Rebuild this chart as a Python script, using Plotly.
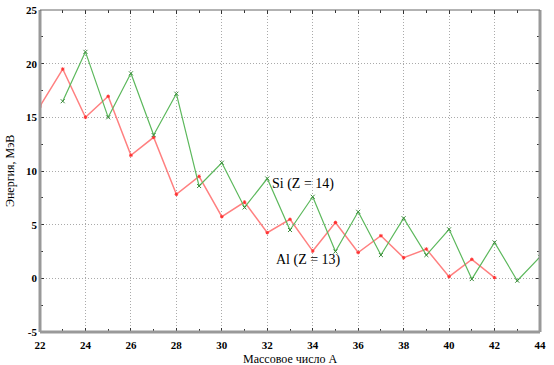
import plotly.graph_objects as go

al_x = list(range(22, 43))
al_y = [16.05, 19.5, 15.0, 16.96, 11.46, 13.14, 7.83, 9.5, 5.74, 7.1, 4.25,
        5.5, 2.54, 5.2, 2.4, 3.97, 1.92, 2.73, 0.15, 1.77, 0.06]
si_x = list(range(23, 45))
si_y = [16.5, 21.1, 15.0, 19.1, 13.35, 17.2, 8.6, 10.77, 6.6, 9.3, 4.5,
        7.6, 2.5, 6.2, 2.17, 5.6, 2.17, 4.57, -0.07, 3.35, -0.22, 2.0]
x_ticks = list(range(22, 45, 2))
y_ticks = list(range(-5, 26, 5))

fig = go.Figure()
fig.add_trace(go.Scatter(x=al_x, y=al_y, mode="lines+markers",
                         line=dict(color="#ff8080", width=1.5),
                         marker=dict(symbol="asterisk-open", size=3, color="#ff3030",
                                     line=dict(width=1, color="#ff3030")),
                         showlegend=False))
fig.add_trace(go.Scatter(x=si_x, y=si_y, mode="lines+markers",
                         line=dict(color="#5cb85c", width=1.2),
                         marker=dict(symbol="x-thin-open", size=4, color="#3a8a3a",
                                     line=dict(width=1, color="#3a8a3a")),
                         showlegend=False))

fig.add_annotation(x=32.1, y=8.8, text="Si (Z = 14)", showarrow=False, xanchor="left",
                   font=dict(family="Liberation Serif", size=14, color="black"))
fig.add_annotation(x=32.3, y=1.7, text="Al (Z = 13)", showarrow=False, xanchor="left",
                   font=dict(family="Liberation Serif", size=14, color="black"))
fig.add_annotation(xref="paper", yref="paper", x=0.5, y=-0.055, yanchor="top",
                   text="Массовое число A", showarrow=False,
                   font=dict(family="Liberation Serif", size=12, color="black"))
fig.add_annotation(xref="paper", yref="paper", x=-0.042, y=0.5, xanchor="right",
                   textangle=-90, text="Энергия, МэВ", showarrow=False,
                   font=dict(family="Liberation Serif", size=12, color="black"))

# frame
fig.add_shape(type="line", xref="paper", yref="paper", x0=0, x1=0, y0=0, y1=1,
              line=dict(color="#999999", width=3))
fig.add_shape(type="line", xref="paper", yref="paper", x0=0, x1=1, y0=0, y1=0,
              line=dict(color="#999999", width=3))
fig.add_shape(type="line", xref="paper", yref="paper", x0=1, x1=1, y0=0, y1=1,
              line=dict(color="#999999", width=3))
fig.add_shape(type="line", xref="paper", yref="paper", x0=0, x1=1, y0=1, y1=1,
              line=dict(color="#666666", width=1))

tickfont = dict(family="Liberation Serif", size=11, color="black")
fig.update_xaxes(range=[22, 44], tickvals=x_ticks,
                 ticktext=[f"<b>{v}</b>" for v in x_ticks],
                 ticks="inside", ticklen=4, ticklabelstandoff=5,
                 tickcolor="#333", mirror="ticks", showgrid=True, gridcolor="#aaaaaa",
                 griddash="1px,2px", gridwidth=1, zeroline=False, showline=False,
                 tickfont=tickfont, automargin=False,
                 minor=dict(dtick=1, tick0=23, ticks="inside", ticklen=3,
                            tickcolor="#333", showgrid=False))
fig.update_yaxes(range=[-5, 25], tickvals=y_ticks,
                 ticktext=[f"<b>{v}</b>" for v in y_ticks],
                 ticks="inside", ticklen=4, ticklabelstandoff=2,
                 tickcolor="#333", mirror="ticks", showgrid=True, gridcolor="#aaaaaa",
                 griddash="1px,2px", gridwidth=1, zeroline=False, showline=False,
                 tickfont=tickfont, automargin=False,
                 minor=dict(dtick=2.5, tick0=-2.5, ticks="inside", ticklen=3,
                            tickcolor="#333", showgrid=False))

fig.update_layout(width=554, height=365, margin=dict(l=40, r=14, t=10, b=33),
                  plot_bgcolor="white", paper_bgcolor="white",
                  font=dict(family="Liberation Serif"))

fig.write_html("out.html", config={"displayModeBar": False},
               post_script="document.body.style.margin='0px';document.body.style.overflow='hidden';")
